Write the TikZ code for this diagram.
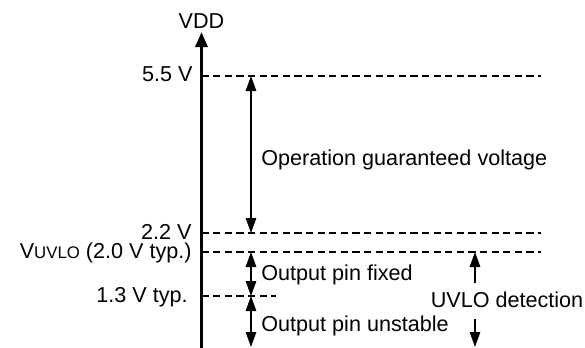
\documentclass[tikz,border=0pt]{standalone}
\usepackage{fontspec}
\setmainfont{Liberation Sans}
\usetikzlibrary{arrows.meta}
\begin{document}
\begin{tikzpicture}[x=0.5pt,y=-0.5pt,
  lbl/.style={font=\fontsize{10.8}{12}\selectfont, inner sep=0pt},
  lvl/.style={dash pattern=on 3.6pt off 2.2pt, line width=0.85pt},
  dimarrow/.style={line width=0.8pt, {Triangle[length=7.5pt,width=5.2pt]}-{Triangle[length=7.5pt,width=5.2pt]}},
  onearrow/.style={line width=0.8pt, -{Triangle[length=7.5pt,width=5.2pt]}}]
\useasboundingbox (0,0) rectangle (585,348);
% axis
\coordinate (axB) at (201.5,349);
\coordinate (axT) at (201.5,32);
\draw[line width=1.6pt,-{Triangle[length=7.5pt,width=6pt]}] (axB) -- (axT);
\node[lbl, anchor=base] (vdd) at (201.5,28) {VDD};
% levels
\coordinate (a55) at (201.5,76);  \coordinate (b55) at (541,76);
\coordinate (a22) at (201.5,233); \coordinate (b22) at (541,233);
\coordinate (auv) at (201.5,252); \coordinate (buv) at (541,252);
\coordinate (a13) at (201.5,296); \coordinate (b13) at (276,296);
\draw[lvl] (a55) -- (b55);
\draw[lvl] (a22) -- (b22);
\draw[lvl] (auv) -- (buv);
\draw[lvl] (a13) -- (b13);
% level labels
\node[lbl, anchor=base east] (t55) at (193,82) {5.5 V};
\node[lbl, anchor=base east] (t22) at (192,239) {2.2 V};
\node[lbl, anchor=base east] (tuv) at (192,258) {V{\fontsize{8.4}{9}\selectfont UVLO} (2.0 V typ.)};
\node[lbl, anchor=base east] (t13) at (188,302) {1.3 V typ.};
% dimension arrows
\coordinate (o1) at (251,76);  \coordinate (o2) at (251,233);
\coordinate (f1) at (251,252); \coordinate (f2) at (251,296);
\coordinate (u1) at (251,296); \coordinate (u2) at (251,347);
\draw[dimarrow] (o1) -- (o2);
\draw[dimarrow] (f1) -- (f2);
\draw[dimarrow] (u1) -- (u2);
\node[lbl, anchor=base west] (op) at (261,165) {Operation guaranteed voltage};
\node[lbl, anchor=base west] (fx) at (261,280) {Output pin fixed};
\node[lbl, anchor=base west] (us) at (261,331) {Output pin unstable};
% UVLO detection
\node[lbl, anchor=base] (uvd) at (507,307) {UVLO detection};
\coordinate (d1) at (475,283); \coordinate (d2) at (475,252);
\coordinate (d3) at (475,319); \coordinate (d4) at (475,347);
\draw[onearrow] (d1) -- (d2);
\draw[onearrow] (d3) -- (d4);
\end{tikzpicture}
\end{document}
